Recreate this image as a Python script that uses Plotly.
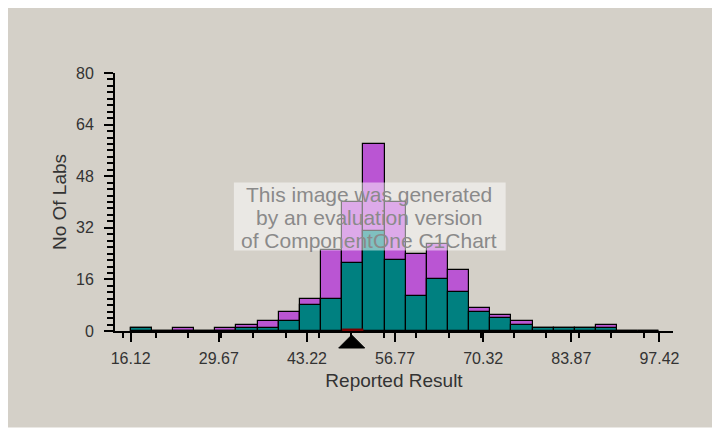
import numpy as np
import plotly.graph_objects as go

# x axis labels (bin range of the histogram)
tick_labels = [16.12, 29.67, 43.22, 56.77, 70.32, 83.87, 97.42]
n_bins = 25

# number of labs per bin: all labs and labs with the same method
all_labs = [1, 0, 1, 0, 1, 2, 3, 6, 10, 25, 40, 58, 40, 24, 27, 19, 7, 5, 3, 1, 1, 1, 2, 0, 0]
method_labs = [1, 0, 0, 0, 0, 1, 1, 3, 8, 10, 21, 31, 22, 11, 16, 12, 6, 4, 2, 1, 1, 1, 1, 0, 0]

assigned_value = 50.1   # triangle marker
lab_result = 50.1       # bin highlighted on the axis

watermark = ["This image was generated", "by an evaluation version", "of ComponentOne C1Chart"]

edges = np.linspace(tick_labels[0], tick_labels[-1], n_bins + 1)
centers = (edges[:-1] + edges[1:]) / 2
bin_width = edges[1] - edges[0]

bg = "#d4d0c8"
font = "Arial, Liberation Sans, sans-serif"

# the page adds an 8px body margin, so the figure is 8px smaller
off = 8
W, H = 720 - off, 434 - off

fig = go.Figure()
fig.add_trace(go.Bar(x=centers, y=all_labs, width=bin_width,
                     marker=dict(color="#ba55d3", line=dict(color="black", width=1.2))))
fig.add_trace(go.Bar(x=centers, y=method_labs, width=bin_width,
                     marker=dict(color="#008080", line=dict(color="black", width=1.2))))

# highlighted bin under the lab's result
k = int(np.searchsorted(edges, lab_result) - 1)
fig.add_shape(type="line", x0=edges[k], x1=edges[k + 1], y0=0.3, y1=0.3,
              line=dict(color="#7a0000", width=3), layer="above")

# triangle under the axis at the assigned value (pixel-sized glyph)
fig.add_shape(type="path", xref="x", yref="paper", xsizemode="pixel", ysizemode="pixel",
              xanchor=assigned_value, yanchor=0, path="M-13,-17 L13,-17 L0,-4 Z",
              fillcolor="black", line=dict(color="black", width=1), layer="above")

# plot area in page pixels
plot_l, plot_r, plot_t, plot_b = 115, 673.5, 73.3, 331.5
pw, ph = plot_r - plot_l, plot_b - plot_t
def px_x(p):
    return (p - plot_l) / pw
def px_y(p):
    return (plot_b - p) / ph

# white strip under the grey panel
fig.add_shape(type="rect", xref="paper", yref="paper", x0=px_x(0), x1=px_x(730),
              y0=px_y(440), y1=px_y(428), fillcolor="white", line_width=0, layer="below")

# evaluation watermark
fig.add_shape(type="rect", xref="paper", yref="paper", x0=px_x(234), x1=px_x(506),
              y0=px_y(251), y1=px_y(183), fillcolor="rgba(255,255,255,0.5)",
              line_width=0, layer="above")
for line, yc in zip(watermark, [195, 218, 241]):
    fig.add_annotation(xref="paper", yref="paper", x=px_x(369), y=px_y(yc), text=line,
                       showarrow=False, font=dict(family=font, size=21, color="#8a8a8a"))

fig.update_layout(
    width=W, height=H,
    margin=dict(l=plot_l - off, r=720 - plot_r, t=plot_t - off, b=434 - plot_b, pad=0),
    paper_bgcolor=bg, plot_bgcolor="rgba(0,0,0,0)",
    barmode="overlay", bargap=0, showlegend=False,
    font=dict(family=font, size=16, color="#333"),
)
fig.update_xaxes(
    range=[13.71, 99.5], tickvals=tick_labels, ticktext=[f"{v:.2f}" for v in tick_labels],
    showgrid=False, zeroline=False, showline=True, linecolor="black", linewidth=2,
    ticks="outside", ticklen=9, tickwidth=2, tickcolor="black", ticklabelstandoff=3,
    minor=dict(tick0=0, dtick=5, ticks="outside", ticklen=5, tickwidth=2, tickcolor="black"),
    title=dict(text="Reported Result", standoff=7),
)
fig.update_yaxes(
    range=[0, 80], tickvals=[0, 16, 32, 48, 64, 80],
    showgrid=False, zeroline=False, showline=True, linecolor="black", linewidth=2,
    ticks="outside", ticklen=9, tickwidth=2, tickcolor="black", ticklabelstandoff=7,
    minor=dict(dtick=2, ticks="outside", ticklen=6, tickwidth=2, tickcolor="black"),
    title=dict(text="No Of Labs", standoff=4),
)

fig.write_html("out.html")
